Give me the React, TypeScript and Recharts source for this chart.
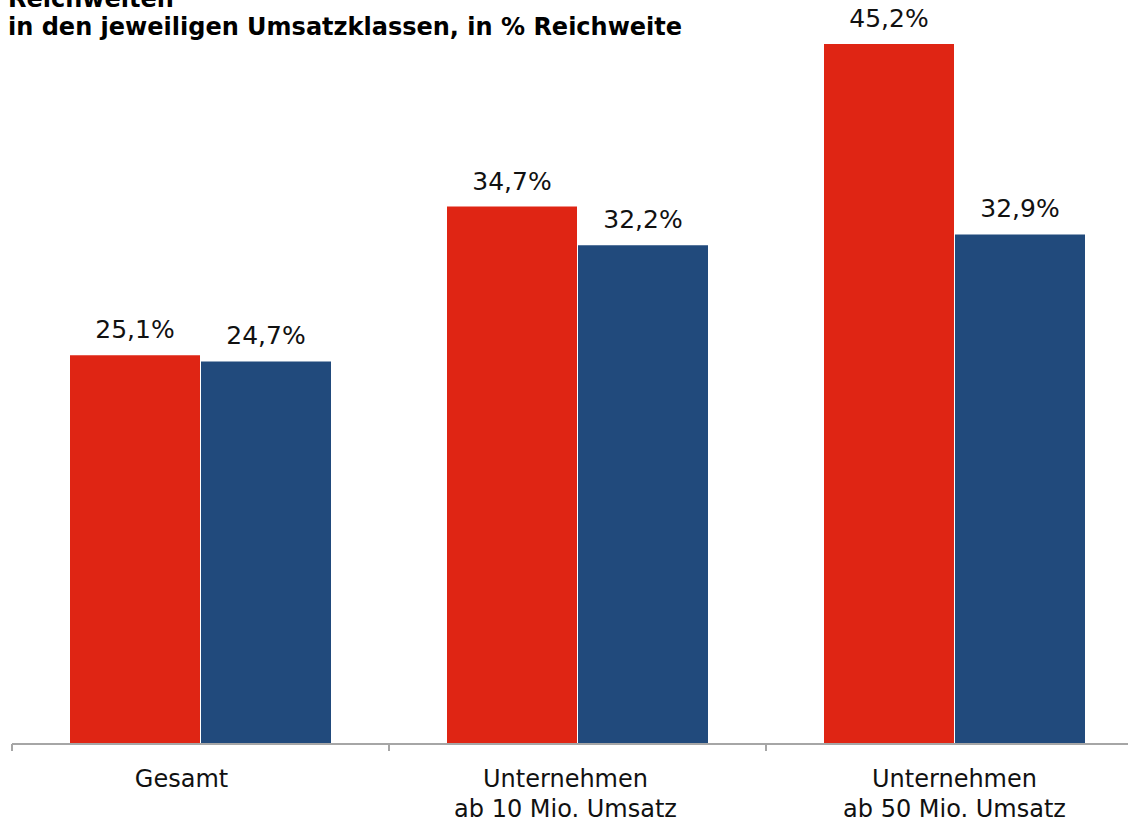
import React from "react";
import { BarChart, Bar, XAxis, YAxis, LabelList } from "recharts";

const categories = ["Gesamt", "Unternehmen\nab 10 Mio. Umsatz", "Unternehmen\nab 50 Mio. Umsatz"];
const seriesRed = [25.1, 34.7, 45.2];
const seriesBlue = [24.7, 32.2, 32.9];
const titleLines = ["Reichweiten", "in den jeweiligen Umsatzklassen, in % Reichweite"];

const data = categories.map((c, i) => ({ name: c, red: seriesRed[i], blue: seriesBlue[i] }));

const FONT = "'DejaVu Sans', Verdana, sans-serif";
const CHART_W = 1160;
const CHART_H = 819;
const MARGIN = { top: 44, right: 17, left: 12, bottom: 0 };
const PLOT_W = CHART_W - MARGIN.left - MARGIN.right;
const BAND = PLOT_W / categories.length;
const TICK_DX = [-19, -12, 0];

const fmt = (v: number) => v.toFixed(1).replace(".", ",") + "%";

const Tick = (props: any) => {
  const { x, y, payload, index } = props;
  const lines = String(payload.value).split("\n");
  const left = x - BAND / 2;
  const isLast = index === categories.length - 1;
  const tx = x + (TICK_DX[index] || 0);
  return (
    <g>
      <line x1={left} y1={y - 8} x2={left} y2={y - 1} stroke="#a6a6a6" strokeWidth={2} />
      {isLast && <line x1={left + BAND} y1={y - 8} x2={left + BAND} y2={y - 1} stroke="#a6a6a6" strokeWidth={2} />}
      <text x={tx} y={y} textAnchor="middle" fontFamily={FONT} fontSize={24} fill="#111">
        {lines.map((l, i) => (
          <tspan key={i} x={tx} dy={i === 0 ? 35 : 30}>
            {l}
          </tspan>
        ))}
      </text>
    </g>
  );
};

export default function App() {
  return (
    <div style={{ position: "absolute", left: 0, top: 0, width: 1128, height: 819, overflow: "hidden", background: "#fff" }}>
      <div
        style={{
          position: "absolute",
          left: 8,
          top: -15,
          fontFamily: FONT,
          fontWeight: "bold",
          fontSize: 24,
          lineHeight: "28px",
          color: "#000",
          whiteSpace: "nowrap",
          zIndex: 2,
        }}
      >
        {titleLines.map((t, i) => (
          <div key={i}>{t}</div>
        ))}
      </div>
      <BarChart width={CHART_W} height={CHART_H} data={data} margin={MARGIN} barCategoryGap={58} barGap={1}>
        <XAxis
          dataKey="name"
          height={75}
          interval={0}
          tickLine={false}
          axisLine={{ stroke: "#a6a6a6", strokeWidth: 2 }}
          tick={<Tick />}
        />
        <YAxis hide domain={[0, 45.2]} />
        <Bar dataKey="red" fill="#df2514" isAnimationActive={false}>
          <LabelList dataKey="red" position="top" offset={17} formatter={fmt} fontFamily={FONT} fontSize={25} fill="#111" />
        </Bar>
        <Bar dataKey="blue" fill="#214a7c" isAnimationActive={false}>
          <LabelList dataKey="blue" position="top" offset={17} formatter={fmt} fontFamily={FONT} fontSize={25} fill="#111" />
        </Bar>
      </BarChart>
    </div>
  );
}
